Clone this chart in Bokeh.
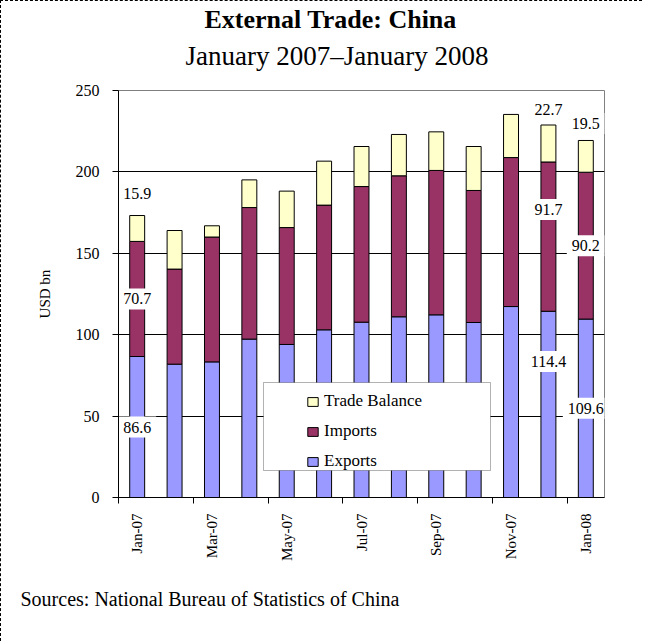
import math
from bokeh.plotting import figure
from bokeh.models import (Range1d, FixedTicker, Legend, LegendItem, BoxAnnotation,
                          Title, ColumnDataSource)
from bokeh.core.properties import value
from bokeh.embed import file_html
from bokeh.resources import INLINE

# ---- data ----
months = ["Jan-07", "Feb-07", "Mar-07", "Apr-07", "May-07", "Jun-07", "Jul-07",
          "Aug-07", "Sep-07", "Oct-07", "Nov-07", "Dec-07", "Jan-08"]
exports = [86.6, 81.9, 83.3, 97.3, 94.0, 103.0, 107.7, 111.0, 112.2, 107.5, 117.3, 114.4, 109.6]
imports = [70.7, 58.4, 76.7, 80.8, 71.8, 76.6, 83.3, 86.6, 88.7, 81.1, 91.5, 91.7, 90.2]
balance = [15.9, 23.7, 6.9, 17.0, 22.4, 27.0, 24.6, 25.4, 23.7, 27.0, 26.5, 22.7, 19.5]
series_names = ["Exports", "Imports", "Trade Balance"]
labelled_months = [0, 11, 12]
y_ticks = [0, 50, 100, 150, 200, 250]

# ---- styles ----
colors = ["#9999FF", "#993366", "#FFFFCC"]
FONT = "Liberation Serif"
FRAME_H = 407
Y_MAX = 250
px = FRAME_H / Y_MAX
off_exp = [0, 43, 0]     # pixel shifts (upwards) for the value labels
off_imp = [0, 27, 0]
off_bal = [22, 16, 17]

x = list(range(len(months)))
src = ColumnDataSource(dict(x=x, exports=exports, imports=imports, balance=balance))

p = figure(width=642, height=641, output_backend="svg", toolbar_location=None,
           x_range=Range1d(-0.5, len(months) - 0.5), y_range=Range1d(0, Y_MAX),
           min_border_left=117, min_border_right=39, min_border_top=89,
           min_border_bottom=145)
p.background_fill_color = "white"
p.border_fill_color = "white"
p.outline_line_color = "#808080"
p.outline_line_width = 1
p.styles = {"border-left": "1px dashed black", "border-top": "1px dashed black"}

rs = p.vbar_stack(["exports", "imports", "balance"], x="x", width=0.4, source=src,
                  fill_color=colors, line_color="black", line_width=1)

# axes
p.xgrid.visible = False
p.ygrid.ticker = FixedTicker(ticks=y_ticks)
p.ygrid.grid_line_color = "black"
p.ygrid.grid_line_width = 1

yax = p.yaxis[0]
yax.ticker = FixedTicker(ticks=y_ticks)
yax.axis_line_color = "black"
yax.major_tick_in = 0
yax.major_tick_out = 6
yax.minor_tick_line_color = None
yax.major_label_text_font = FONT
yax.major_label_text_font_size = "16px"
yax.major_label_text_color = "black"
yax.major_label_standoff = 13
yax.axis_label = "USD bn"
yax.axis_label_text_font = FONT
yax.axis_label_text_font_style = "normal"
yax.axis_label_text_font_size = "15px"
yax.axis_label_text_color = "black"
yax.axis_label_standoff = 20

xax = p.xaxis[0]
major = [i for i in x if i % 2 == 0]
minor = [i - 0.5 for i in x if i % 2 == 0]
xax.ticker = FixedTicker(ticks=major, minor_ticks=minor)
xax.major_label_overrides = {i: months[i] for i in major}
xax.major_label_orientation = math.pi / 2
xax.major_tick_in = 0
xax.major_tick_out = 0
xax.minor_tick_in = 0
xax.minor_tick_out = 6
xax.minor_tick_line_color = "black"
xax.axis_line_color = "black"
xax.major_label_text_font = FONT
xax.major_label_text_font_size = "15px"
xax.major_label_text_color = "black"
xax.major_label_standoff = 10

# value labels
lx, ly, lt = [], [], []
for k, i in enumerate(labelled_months):
    e, im, b = exports[i], imports[i], balance[i]
    lx += [i, i, i]
    ly += [e / 2 + off_exp[k] / px, e + im / 2 + off_imp[k] / px, e + im + b + off_bal[k] / px]
    lt += [f"{e:.1f}", f"{im:.1f}", f"{b:.1f}"]
lsrc = ColumnDataSource(dict(x=lx, y=ly, t=lt))
p.text(x="x", y="y", text="t", source=lsrc, text_font=value(FONT),
       text_font_size="16px", text_align="center", text_baseline="middle",
       text_color="black", background_fill_color="white", padding=5)

# legend
box = BoxAnnotation(left=145, right=372, bottom=27, top=115,
                    left_units="screen", right_units="screen",
                    top_units="screen", bottom_units="screen",
                    fill_color="white", fill_alpha=1, line_color="black",
                    line_width=1)
p.add_layout(box)
legend = Legend(items=[LegendItem(label=series_names[2], renderers=[rs[2]]),
                       LegendItem(label=series_names[1], renderers=[rs[1]]),
                       LegendItem(label=series_names[0], renderers=[rs[0]])],
                location=(188, 26), padding=5, spacing=10, margin=0,
                label_height=19, glyph_height=11, glyph_width=13,
                label_standoff=5, label_text_font=FONT, label_text_font_size="17px",
                label_text_color="black", border_line_color=None,
                background_fill_alpha=0)
p.add_layout(legend)

# titles (subtitle first: nearest the frame) and source note
p.add_layout(Title(text="January 2007\u2013January 2008", align="left", offset=67,
                   text_font=FONT, text_font_style="normal", text_font_size="27px",
                   text_color="black", standoff=40), "above")
p.add_layout(Title(text="External Trade: China", align="left", offset=86,
                   text_font=FONT, text_font_style="bold", text_font_size="26px",
                   text_color="black", standoff=-30), "above")
p.add_layout(Title(text="Sources: National Bureau of Statistics of China", align="left",
                   offset=-98, text_font=FONT, text_font_style="normal",
                   text_font_size="20px", text_color="black", standoff=44), "below")

open("out.html", "w").write(file_html(p, INLINE, title="External Trade: China"))
